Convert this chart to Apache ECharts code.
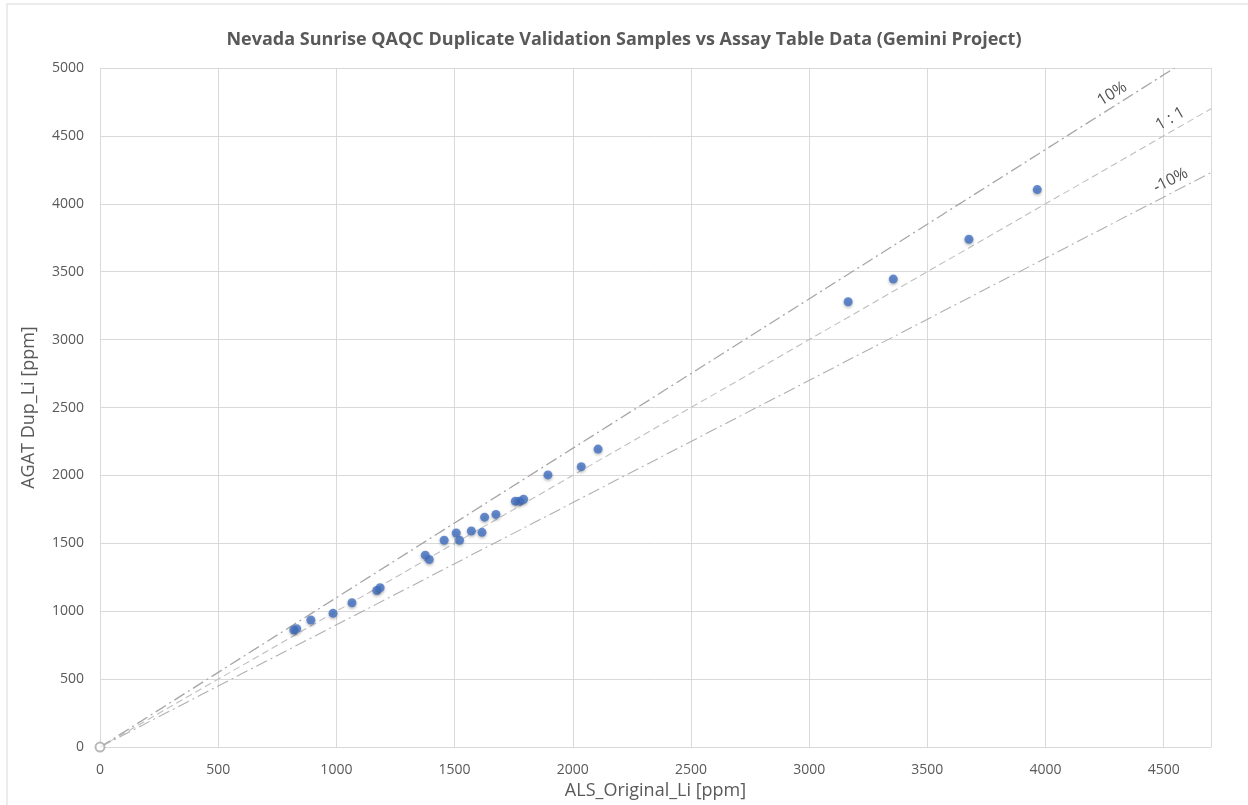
<!DOCTYPE html>
<html>
<head>
<meta charset="utf-8">
<title>QAQC Duplicate Validation</title>
<script src="https://cdn.jsdelivr.net/npm/echarts@6/dist/echarts.min.js"></script>
<style>
  html, body { margin: 0; padding: 0; background: #fff; }
  #chart { width: 1248px; height: 805px; }
</style>
</head>
<body>
<div id="chart"></div>
<script>
  // ALS original vs AGAT duplicate (ppm)
  var alsOriginal = [0, 820, 832, 892, 986, 1066, 1171, 1185, 1376, 1393, 1456, 1507, 1521, 1571,
                     1616, 1627, 1675, 1757, 1774, 1792, 1895, 2036, 2107, 3165, 3356, 3676, 3965];
  var agatDup     = [0, 862, 872, 936, 985, 1063, 1153, 1173, 1413, 1381, 1523, 1576, 1523, 1591,
                     1581, 1693, 1713, 1811, 1811, 1825, 2004, 2065, 2194, 3279, 3446, 3739, 4105];

  // reference lines: name, ratio, where its label sits (x)
  var refNames  = ['10%', '1 : 1', '-10%'];
  var refRatios = [1.1, 1.0, 0.9];
  var refLabelX = [4300, 4545, 4545];
  var refRotate = [32, 30, 27];
  var refStyles = [
    {color: '#a6a6a6', type: [12, 4, 2, 4], width: 1.3},
    {color: '#bfbfbf', type: [7, 4], width: 1.1},
    {color: '#b0b0b0', type: [12, 4, 2, 4], width: 1.1}
  ];

  var xMax = 4700, yMax = 5000;

  var pts = alsOriginal.slice(1).map(function (v, i) { return [v, agatDup[i + 1]]; });

  var series = [];
  refRatios.forEach(function (r, i) {
    var xEnd = Math.min(xMax, yMax / r);
    series.push({
      name: refNames[i],
      type: 'line',
      data: [[0, 0], [xEnd, xEnd * r]],
      showSymbol: false,
      silent: true,
      lineStyle: refStyles[i],
      z: 1
    });
    series.push({
      type: 'scatter',
      symbolSize: 0,
      silent: true,
      data: [[refLabelX[i], refLabelX[i] * r]],
      label: {
        show: true,
        formatter: refNames[i],
        position: 'top',
        distance: 4,
        rotate: refRotate[i],
        color: '#262626',
        fontSize: 16,
        fontFamily: 'Open Sans'
      }
    });
  });
  // origin marker
  series.push({
    type: 'scatter',
    data: [[alsOriginal[0], agatDup[0]]],
    symbol: 'emptyCircle',
    symbolSize: 9,
    itemStyle: {color: '#a6a6a6', borderColor: '#a6a6a6', borderWidth: 1},
    z: 3
  });
  series.push({
    name: 'Duplicates',
    type: 'scatter',
    data: pts,
    symbolSize: 9,
    itemStyle: {
      color: '#4472c4',
      shadowColor: 'rgba(0,0,0,0.35)',
      shadowBlur: 3,
      shadowOffsetY: 1.5
    },
    z: 4
  });

  var myChart = echarts.init(document.getElementById('chart'));
  var option = {
    animation: false,
    backgroundColor: '#fff',
    title: {
      text: 'Nevada Sunrise QAQC Duplicate Validation Samples vs Assay Table Data (Gemini Project)',
      left: 'center',
      top: 26,
      textStyle: {
        color: '#595959',
        fontSize: 18,
        fontWeight: 'bold',
        fontFamily: 'Open Sans, sans-serif'
      }
    },
    grid: {left: 100, right: 37, top: 68, bottom: 55, containLabel: false},
    xAxis: {
      type: 'value',
      min: 0,
      max: xMax,
      interval: 500,
      name: 'ALS_Original_Li [ppm]',
      nameLocation: 'middle',
      nameGap: 34,
      nameTextStyle: {color: '#595959', fontSize: 18, fontFamily: 'Open Sans'},
      axisLine: {show: true, lineStyle: {color: '#d9d9d9'}},
      axisTick: {show: false},
      axisLabel: {color: '#595959', fontSize: 14, margin: 16, fontFamily: 'Open Sans',
        formatter: function (v) { return v > 4500 ? '' : String(v); }},
      splitLine: {show: true, lineStyle: {color: '#d9d9d9'}}
    },
    yAxis: {
      type: 'value',
      min: 0,
      max: yMax,
      interval: 500,
      name: 'AGAT Dup_Li [ppm]',
      nameLocation: 'middle',
      nameGap: 62,
      nameTextStyle: {color: '#595959', fontSize: 18, fontFamily: 'Open Sans'},
      axisLine: {show: false},
      axisTick: {show: false},
      axisLabel: {color: '#595959', fontSize: 14, margin: 16, fontFamily: 'Open Sans',
        formatter: function (v) { return String(v); }},
      splitLine: {show: true, lineStyle: {color: '#d9d9d9'}}
    },
    graphic: [{
      type: 'rect',
      shape: {x: 7, y: 4, width: 1260, height: 820},
      style: {fill: 'none', stroke: '#e6e6e6', lineWidth: 1.5},
      silent: true
    }],
    series: series
  };
  myChart.setOption(option);
</script>
</body>
</html>
